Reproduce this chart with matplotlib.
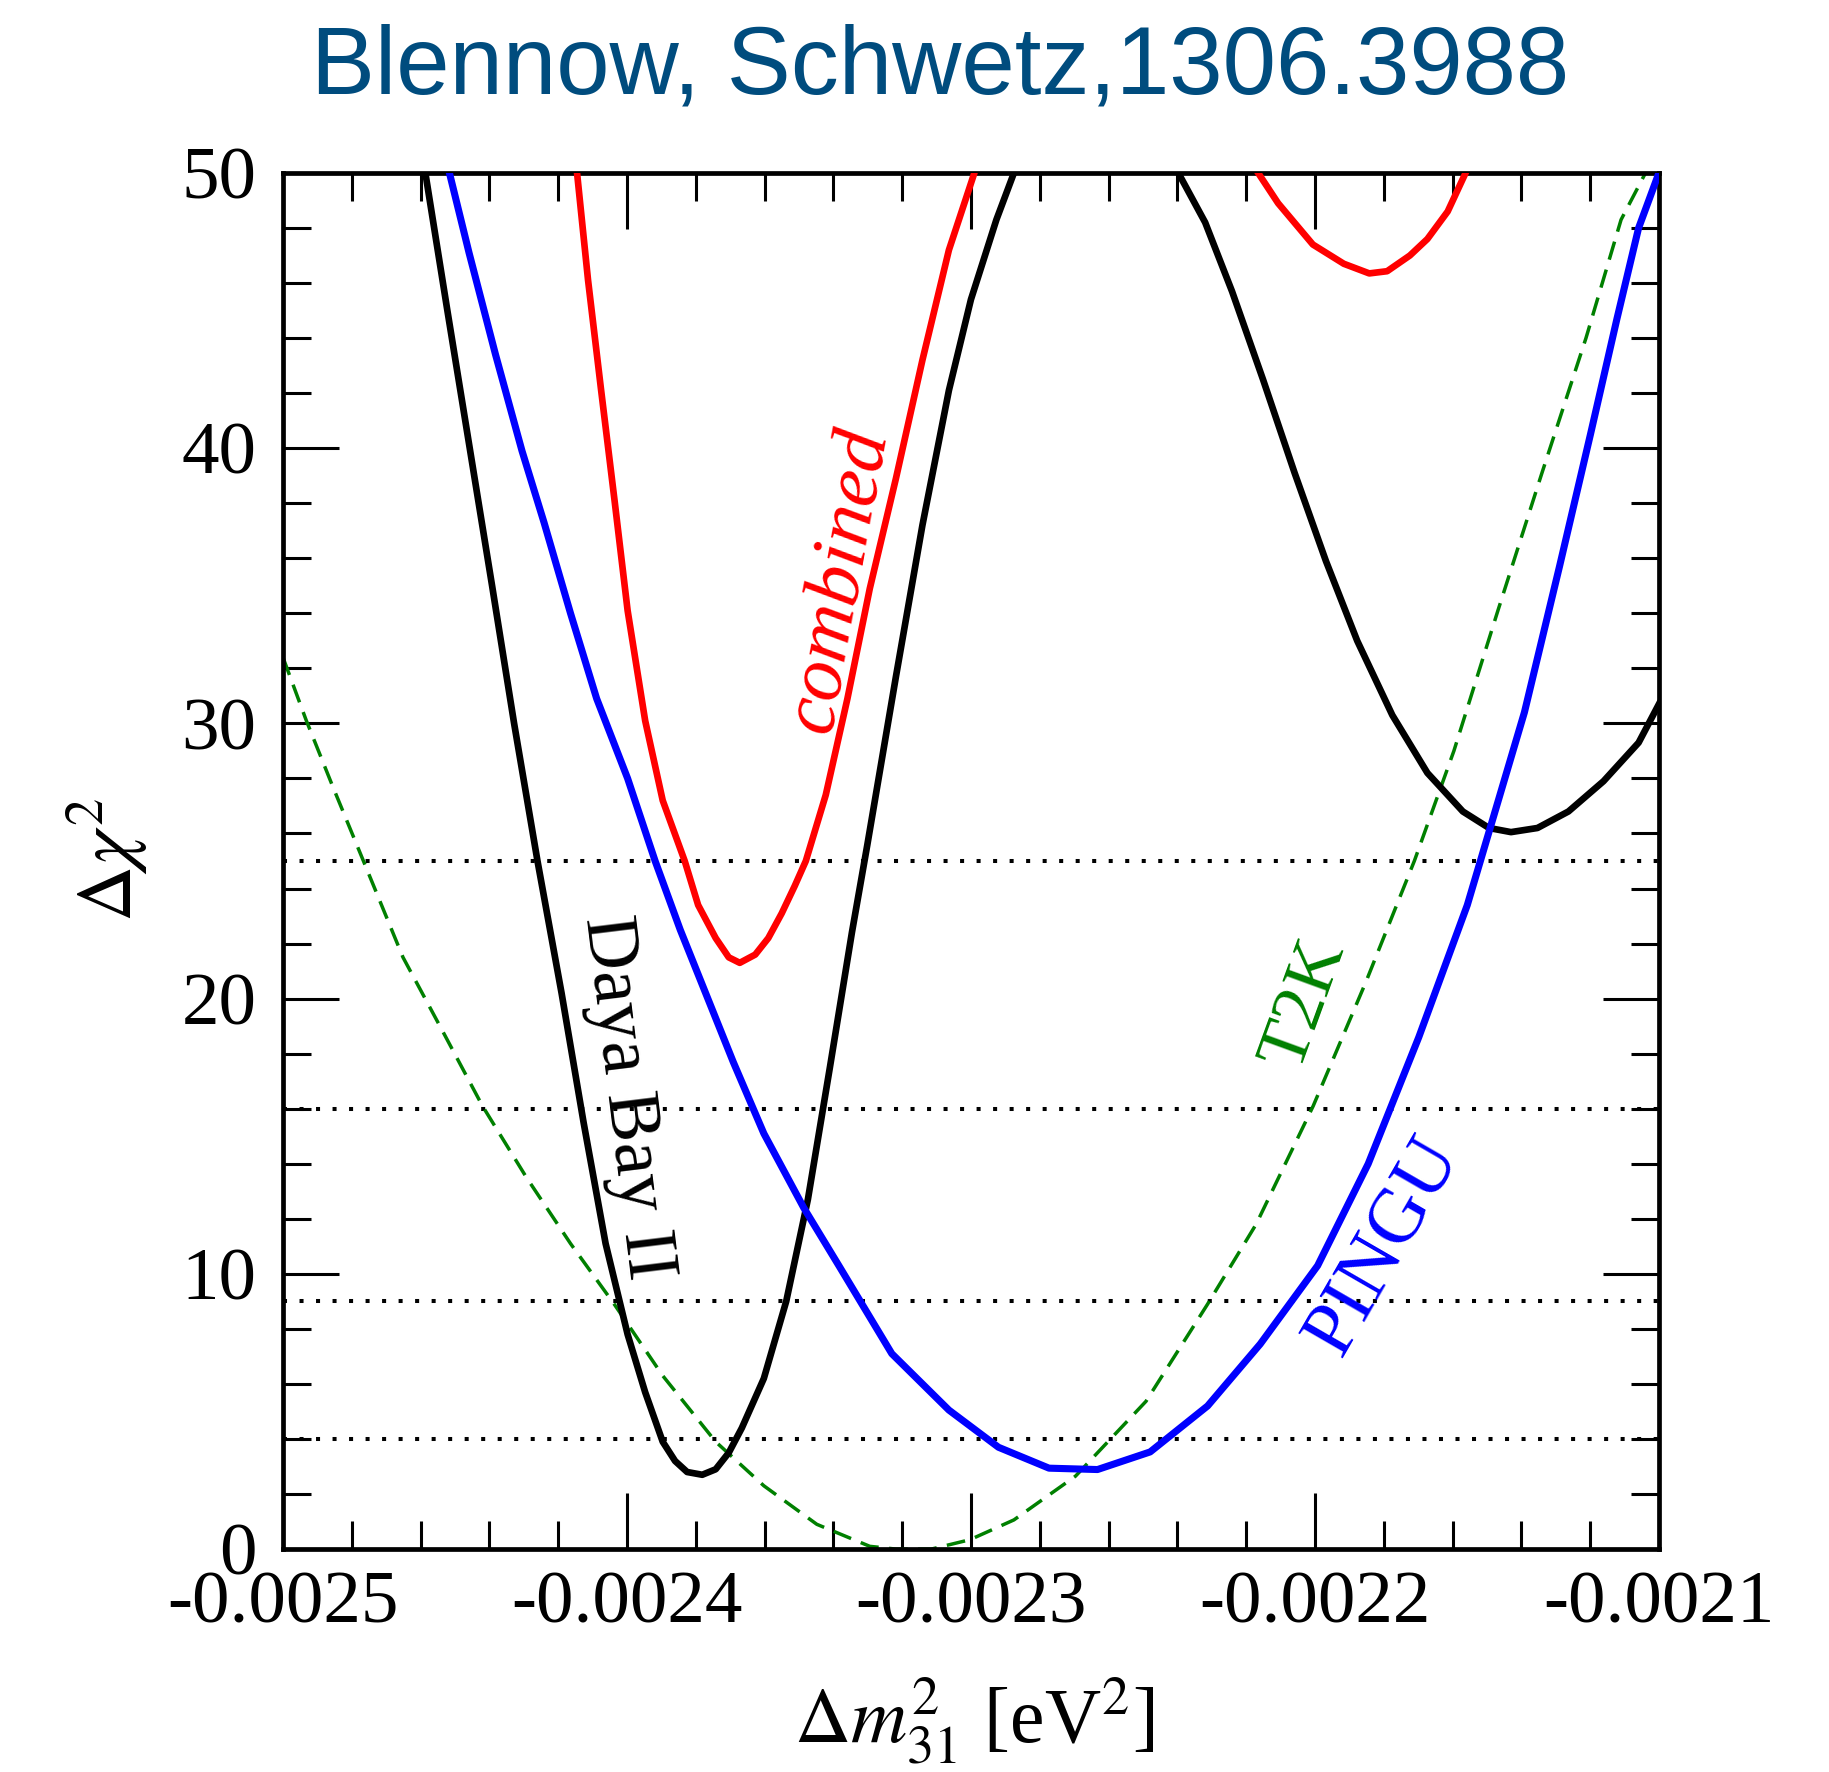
import matplotlib
matplotlib.use("Agg")
import matplotlib.pyplot as plt
from matplotlib.ticker import MultipleLocator, FormatStrFormatter

plt.rcParams["font.family"] = ["Liberation Serif", "DejaVu Serif"]
plt.rcParams["mathtext.fontset"] = "stix"
plt.rcParams["axes.unicode_minus"] = False

# ── curves (dm31^2 in eV^2, delta chi^2) ─────────────────────────────────────
dayabay_x = [-2.4586e-3, -2.4522e-3, -2.4457e-3, -2.4392e-3, -2.4328e-3, -2.4260e-3,
             -2.4190e-3, -2.4126e-3, -2.4062e-3, -2.3998e-3, -2.3947e-3, -2.3896e-3,
             -2.3860e-3, -2.3825e-3, -2.3781e-3, -2.3742e-3, -2.3704e-3, -2.3666e-3,
             -2.3602e-3, -2.3537e-3, -2.3474e-3, -2.3410e-3, -2.3346e-3, -2.3301e-3,
             -2.3218e-3, -2.3141e-3, -2.3064e-3, -2.3000e-3, -2.2926e-3, -2.2875e-3]
dayabay_y = [50.0, 45.0, 40.0, 35.0, 30.0, 25.0,
             20.2, 15.5, 11.1, 7.8, 5.7, 3.9,
             3.2, 2.8, 2.7, 2.9, 3.5, 4.4,
             6.2, 9.0, 12.7, 17.5, 22.4, 25.6,
             31.7, 37.2, 42.1, 45.4, 48.3, 50.0]

# Daya Bay II, second minimum
dayabay2_x = [-2.2397e-3, -2.2319e-3, -2.2241e-3, -2.2151e-3, -2.2059e-3, -2.1968e-3,
              -2.1877e-3, -2.1775e-3, -2.1673e-3, -2.1570e-3, -2.1494e-3, -2.1430e-3,
              -2.1353e-3, -2.1263e-3, -2.1161e-3, -2.1059e-3, -2.1000e-3]
dayabay2_y = [50.0, 48.2, 45.7, 42.5, 39.1, 35.9,
              33.0, 30.3, 28.2, 26.8, 26.2, 26.05,
              26.2, 26.8, 27.9, 29.3, 30.7]

combined_x = [-2.4145e-3, -2.4113e-3, -2.4075e-3, -2.4036e-3, -2.3998e-3, -2.3947e-3,
              -2.3896e-3, -2.3832e-3, -2.3793e-3, -2.3742e-3, -2.3704e-3, -2.3672e-3,
              -2.3627e-3, -2.3589e-3, -2.3550e-3, -2.3512e-3, -2.3480e-3, -2.3422e-3,
              -2.3359e-3, -2.3294e-3, -2.3218e-3, -2.3141e-3, -2.3064e-3, -2.2990e-3]
combined_y = [50.0, 46.1, 42.1, 38.1, 34.1, 30.1,
              27.2, 25.0, 23.4, 22.2, 21.5, 21.3,
              21.6, 22.2, 23.1, 24.1, 25.0, 27.4,
              30.9, 34.9, 38.9, 43.2, 47.2, 50.0]

combined2_x = [-2.2165e-3, -2.2107e-3, -2.2006e-3, -2.1916e-3, -2.1842e-3, -2.1790e-3,
               -2.1724e-3, -2.1673e-3, -2.1614e-3, -2.1562e-3]
combined2_y = [50.0, 48.9, 47.4, 46.7, 46.35, 46.43,
               47.0, 47.6, 48.6, 50.0]

pingu_x = [-2.4516e-3, -2.4459e-3, -2.4382e-3, -2.4305e-3, -2.4241e-3, -2.4164e-3,
           -2.4088e-3, -2.3998e-3, -2.3918e-3, -2.3845e-3, -2.3691e-3, -2.3602e-3,
           -2.3486e-3, -2.3384e-3, -2.3230e-3, -2.3064e-3, -2.3000e-3, -2.2920e-3,
           -2.2773e-3, -2.2632e-3, -2.2479e-3, -2.2312e-3, -2.2159e-3, -2.1992e-3,
           -2.1845e-3, -2.1698e-3, -2.1557e-3, -2.1519e-3, -2.1391e-3, -2.1289e-3,
           -2.1199e-3, -2.1122e-3, -2.1059e-3, -2.1000e-3]
pingu_y = [50.0, 47.1, 43.4, 39.9, 37.3, 34.0,
           30.9, 28.0, 25.0, 22.5, 17.7, 15.1,
           12.4, 10.3, 7.1, 5.05, 4.45, 3.7,
           2.94, 2.89, 3.53, 5.2, 7.45, 10.3,
           14.0, 18.6, 23.4, 25.0, 30.4, 35.7,
           40.5, 44.7, 48.0, 50.0]

t2k_x = [-2.5000e-3, -2.4932e-3, -2.4855e-3, -2.4766e-3, -2.4651e-3, -2.4535e-3,
         -2.4420e-3, -2.4292e-3, -2.4164e-3, -2.4037e-3, -2.3896e-3, -2.3742e-3,
         -2.3602e-3, -2.3448e-3, -2.3294e-3, -2.3218e-3, -2.3115e-3, -2.3003e-3,
         -2.2875e-3, -2.2696e-3, -2.2491e-3, -2.2312e-3, -2.2171e-3, -2.2005e-3,
         -2.1852e-3, -2.1711e-3, -2.1596e-3, -2.1468e-3, -2.1340e-3, -2.1212e-3,
         -2.1110e-3, -2.1039e-3]
t2k_y = [32.4, 30.1, 27.7, 25.0, 21.5, 18.8,
         16.1, 13.5, 11.1, 8.9, 6.3, 3.9,
         2.3, 0.9, 0.1, 0.0, 0.0, 0.34,
         1.06, 2.65, 5.37, 8.9, 11.8, 16.1,
         20.6, 25.0, 29.0, 34.1, 39.1, 44.0,
         48.3, 50.0]

sigma_levels = [4, 9, 16, 25]

fig = plt.figure(figsize=(18.29, 17.72), dpi=100)
ax = fig.add_axes([0.1547, 0.1258, 0.7523, 0.7766])

for lev in sigma_levels:
    ax.axhline(lev, color="black", lw=2.9, ls=(0, (1, 3.1)), zorder=1)

lw = 4.8
ax.plot(t2k_x, t2k_y, color="#008000", lw=2.5, dashes=(5.4, 3.0), zorder=2)
ax.plot(dayabay_x, dayabay_y, color="black", lw=lw, zorder=3)
ax.plot(dayabay2_x, dayabay2_y, color="black", lw=lw, zorder=3)
ax.plot(combined_x, combined_y, color="#ff0000", lw=lw, zorder=3)
ax.plot(combined2_x, combined2_y, color="#ff0000", lw=lw, zorder=3)
ax.plot(pingu_x, pingu_y, color="#0000ff", lw=lw + 0.3, zorder=3)

# curve labels
ax.text(-2.4003e-3, 16.4, "Daya Bay II", color="black", fontsize=54,
        rotation=-83, ha="center", va="center")
ax.text(-2.3384e-3, 35.2, "combined", color="#ff0000", fontsize=57,
        style="italic", rotation=79.5, ha="center", va="center")
ax.text(-2.2030e-3, 19.8, "T2K", color="#008000", fontsize=52,
        rotation=70, ha="center", va="center")
ax.text(-2.1800e-3, 11.0, "PINGU", color="#0000ff", fontsize=56,
        rotation=60, ha="center", va="center")

ax.set_xlim(-0.0025, -0.0021)
ax.set_ylim(0, 50)
ax.xaxis.set_major_locator(MultipleLocator(0.0001))
ax.xaxis.set_minor_locator(MultipleLocator(0.00002))
ax.yaxis.set_major_locator(MultipleLocator(10))
ax.yaxis.set_minor_locator(MultipleLocator(2))
ax.xaxis.set_major_formatter(FormatStrFormatter("%.4f"))

ax.tick_params(which="both", direction="in", top=True, right=True, labelsize=54)
ax.tick_params(axis="x", pad=16)
ax.tick_params(axis="y", pad=19)
ax.tick_params(which="major", length=40, width=2.2)
ax.tick_params(which="minor", length=20, width=2.2)
for sp in ax.spines.values():
    sp.set_linewidth(3.4)

fig.text(0.0585, 0.5147, r"$\Delta\chi^2$", rotation=90, fontsize=56,
         ha="center", va="center")
fig.text(0.5325, 0.0169, r"$\Delta m^2_{31}$ [eV$^2$]", fontsize=56,
         ha="center", va="baseline")

fig.text(0.514, 0.9475, "Blennow, Schwetz,1306.3988", fontsize=69,
         family="Liberation Sans", color="#004c7e", ha="center", va="baseline")

fig.savefig("out.png", dpi=100)
